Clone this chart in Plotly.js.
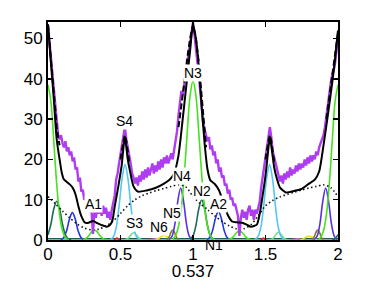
<!DOCTYPE html>
<html>
<head>
<meta charset="utf-8">
<script src="https://cdn.plot.ly/plotly-3.0.1.min.js"></script>
<style>
html,body{margin:0;padding:0;background:#fff;}
#chart{width:374px;height:281px;}
</style>
</head>
<body>
<div id="chart"></div>
<script>
// ---------- data ----------
const xTicks = [0, 0.5, 1, 1.5, 2];
const xTickText = ['0', '0.5', '1', '1.5', '2'];
const yTicks = [0, 10, 20, 30, 40, 50];
const yTickText = ['0', '10', '20', '30', '40', '50'];
const xTitle = '0.537';
const yMax = 54.1;

// measured (noisy) profile, sampled every 0.01 from 0 to 2
const dataStart = 0, dataStep = 0.01;
const dataY = [
 53,49,45,40,36,32,29,26,25,26,
 24,23,24.5,22,23,21,22,19.5,20.5,17.5,
 18,14.5,15.5,12,12.5,10,10.5,8.5,9,7,
 7.5,1.5,7,5.5,8,6.5,8,6,8.5,6.5,
 8,5.5,7,5,7.5,9,11,15,16.5,19,
 21,23,25,28,25,22.5,21,19,16.5,15.5,
 14,15.5,13.5,16,14.5,17,15,17.5,15.5,18,
 16,17.5,19,16.5,18.5,17,19.5,17.5,20,18,
 20.5,19,21,19,20.5,21.5,20,22.5,24,27,
 31,33.5,37,36,38.5,41,44,46,48,51,
 54,
 51,48,45,41,37,33,29,27.5,26,24.5,
 25.5,22.5,23.5,21,22,19,20,17,18,15.5,
 16,13.5,14,11.5,12.5,10,10.5,8.5,9,7,
 6,1.0,5.5,7.5,5.5,7,5,7.5,8.5,6,
 7.5,5,7.5,6.5,8.5,9.5,13,15.5,18,20.5,
 22.5,25,28,25.5,22,20.5,19,17.5,15.5,14.5,
 16,14,16.5,15,17,15.5,18,16,17.5,16.5,
 18.5,17,19,17.5,19,18,20,18.5,20.5,19,
 21,19.5,21,20,22,21,23,24,25,26,
 28,31,34,37,39,41,42,44,47,50
];

// smooth fit (solid black)
const fitX = [0,0.02,0.04,0.06,0.08,0.095,0.11,0.13,0.15,0.17,0.19,0.21,0.23,0.255,0.28,0.31,0.34,0.37,0.405,0.43,0.445,0.46,0.485,0.508,0.53,0.55,0.566,0.59,0.62,0.68,0.74,0.80,0.84,0.87,0.90,0.92,0.95,0.98,1.0,1.02,1.04,1.06,1.08,1.10,1.12,1.15,1.18,1.21,1.24,1.27,1.30,1.34,1.37,1.40,1.44,1.46,1.48,1.50,1.515,1.53,1.545,1.56,1.58,1.60,1.64,1.70,1.75,1.80,1.84,1.87,1.90,1.93,1.96,1.98,2.0];
const fitY = [53.5,44,35,25,20,16.7,15,14.4,13.8,13,11.3,8.3,5.9,4.3,4.3,4.7,4.2,3.7,3.3,3.8,5,8.3,13.3,18.5,25.5,20,17,13.3,12,12.3,12.9,14,15,16.5,21,27,37,47,53.5,50,43,33,24,17.5,14.8,13.9,12.3,9.2,6.2,4.6,4.4,4.3,3.8,3.3,3.8,6.5,11,16,21,25.5,22,18,15,13,11.8,12.2,12.7,14,15,17,23.5,31,39,45,52];

// dashed black model near the peaks
const peakFitX = [0,0.01,0.02,0.03,0.04,0.05,0.06,0.07,0.08, 0.3, 0.50,0.51,0.52,0.53,0.54,0.55,0.56, 0.7, 0.90,0.92,0.94,0.96,0.98,1.0,1.02,1.04,1.06,1.08,1.09, 1.3, 1.50,1.51,1.52,1.53,1.54,1.55,1.56, 1.7, 1.92,1.94,1.96,1.98,2.0];
const peakFitY = [53.5,49,44.5,40,35.5,31.5,28,25.5,23.5, null, 20,22.5,24.5,26,24.5,22,19.5, null, 28,33,39,45,50,53.5,50,44,36,27,23, null, 20,22.5,24.5,26,24.5,22,19.5, null, 30,35.5,40.5,46,51.5];

// dotted background curve
const bgX = [0,0.05,0.10,0.15,0.20,0.25,0.30,0.35,0.40,0.45,0.50,0.55,0.60,0.65,0.70,0.75,0.80,0.85,0.90,0.95,1.00,1.05,1.10,1.15,1.20,1.25,1.30,1.35,1.40,1.45,1.50,1.55,1.60,1.65,1.70,1.75,1.80,1.85,1.90,1.95,2.00];
const bgY = [10.8,9.0,7.2,5.5,4.0,3.0,2.5,2.7,3.5,4.7,6.6,8.5,10.0,11.0,11.7,12.3,12.8,13.3,13.7,13.2,10.8,9.0,7.6,6.0,4.6,3.5,2.8,2.8,3.8,6.0,8.5,9.8,10.7,11.3,11.9,12.4,12.9,13.3,13.7,13.0,10.8];

// components (sampled read-offs)
const greenX = [0,0.02,0.04,0.06,0.08,0.10,0.12,0.14, 0.2, 0.24,0.26,0.28,0.30,0.32,0.34,0.36,0.38,0.40,0.42, 0.6, 0.86,0.88,0.90,0.92,0.94,0.96,0.98,1.0,1.02,1.04,1.06,1.08,1.10,1.12,1.14, 1.2, 1.24,1.26,1.28,1.30,1.32,1.34,1.36,1.38,1.40,1.42, 1.6, 1.86,1.88,1.90,1.92,1.94,1.96,1.98,2.0];
const greenY = [38.5,34.4,24.4,13.9,6.3,2.3,0.65,0, null, 0.1,0.34,1.0,2.0,2.5,2.0,1.0,0.34,0.1,0, null, 0.3,1.1,3.4,8.1,16.2,26.6,35.8,39.5,35.8,26.6,16.2,8.1,3.4,1.1,0.3, null, 0.1,0.3,0.9,1.8,2.3,1.8,0.9,0.3,0.1,0, null, 0,0.65,2.3,6.3,13.9,24.4,34.4,38.5];

const tealX = [0,0.02,0.04,0.06,0.08,0.10,0.12,0.14,0.16, 0.5, 0.98,1.0,1.02,1.04,1.06,1.08,1.10,1.12,1.14, 1.5, 1.96,1.98,2.0];
const tealY = [1.3,3.9,7.7,9.6,7.7,3.9,1.3,0.3,0, null, 0.17,1.0,3.6,7.75,10,7.75,3.6,1.0,0.17, null, 0,0.3,1.3];

const blueX = [0.088,0.108,0.128,0.148,0.168,0.188,0.208,0.228,0.248, 0.6, 1.095,1.115,1.135,1.155,1.175,1.195,1.215,1.235,1.255];
const blueY = [0.08,0.58,2.25,5.2,6.8,5.2,2.25,0.58,0.08, null, 0.09,0.6,2.35,5.4,7.1,5.4,2.35,0.6,0.09];

const cyanX = [0.431,0.451,0.471,0.491,0.511,0.531,0.551,0.571,0.591,0.611,0.631, 1.0, 1.428,1.448,1.468,1.488,1.508,1.528,1.548,1.568,1.588,1.608,1.628];
const cyanY = [0.14,0.82,3.2,8.6,15.3,18.7,15.3,8.6,3.2,0.82,0.14, null, 0.14,0.82,3.2,8.6,15.3,18.7,15.3,8.6,3.2,0.82,0.14];

const lightGreenX = [0.53,0.55,0.57,0.59,0.61,0.63,0.65, 1.0, 1.53,1.55,1.57,1.59,1.61,1.63,1.65];
const lightGreenY = [0.04,0.35,1.2,1.8,1.2,0.35,0.04, null, 0.04,0.37,1.25,1.9,1.25,0.37,0.04];

const oliveX = [0.82,0.83,0.84,0.85,0.86,0.87,0.88,0.89,0.90, 1.3, 1.82,1.83,1.84,1.85,1.86,1.87,1.88,1.89,1.90];
const oliveY = [0.11,0.43,1.15,2.05,2.5,2.05,1.15,0.43,0.11, null, 0.11,0.43,1.15,2.05,2.5,2.05,1.15,0.43,0.11];

const yellowX = [0.74,0.76,0.78,0.80,0.82,0.84,0.86, 1.3, 1.74,1.76,1.78,1.80,1.82,1.84,1.86];
const yellowY = [0.06,0.31,0.8,1.1,0.8,0.31,0.06, null, 0.05,0.28,0.73,1.0,0.73,0.28,0.05];

const violetX = [0.835,0.855,0.875,0.895,0.915,0.935,0.955,0.975,0.995, 1.4, 1.835,1.855,1.875,1.895,1.915,1.935,1.955,1.975,1.995];
const violetY = [0.12,0.9,3.95,9.6,12.9,9.6,3.95,0.9,0.12, null, 0.12,0.9,3.95,9.6,12.9,9.6,3.95,0.9,0.12];

const paleCyanX = [0.09,0.105,0.12,0.135,0.15, 0.6, 1.09,1.105,1.12,1.135,1.15];
const paleCyanY = [0,0.3,0.6,0.3,0, null, 0,0.3,0.6,0.3,0];

const redX = [0.455,0.465,0.475,0.485,0.495, 1.0, 1.465,1.475,1.485,1.495,1.505];
const redY = [0,0.25,0.5,0.25,0, null, 0,0.25,0.5,0.25,0];

const pinkX = [0.70,0.72,0.74,0.76,0.78, 1.2, 1.68,1.70,1.72,1.74,1.76];
const pinkY = [0,0.15,0.3,0.15,0, null, 0,0.15,0.3,0.15,0];

const floorX = [0, 2];
const floorY = [0.3, 0.3];

// labels
const labelText = ['A1','S4','S3','N6','N5','N4','N3','N2','A2','N1'];
const labelX = [0.315, 0.527, 0.595, 0.764, 0.853, 0.922, 1.002, 1.059, 1.174, 1.146];
const labelY = [9.0, 29.6, 4.3, 3.2, 6.6, 15.9, 41.5, 12.1, 8.9, -1.2];

// ---------- build ----------
const dataX = dataY.map((_, i) => +(dataStart + i * dataStep).toFixed(2));

function comp(x, y, color, width) {
  return {x: x, y: y, type: 'scatter', mode: 'lines', connectgaps: false,
          line: {color: color, width: width || 1.6, shape: 'spline', smoothing: 1},
          hoverinfo: 'skip'};
}

const traces = [
  comp(floorX, floorY, '#1d5f58', 1.5),
  comp(pinkX, pinkY, '#e070d0'),
  comp(redX, redY, '#e02020'),
  comp(paleCyanX, paleCyanY, '#8ad8f0'),
  comp(yellowX, yellowY, '#e8e810'),
  comp(oliveX, oliveY, '#857a2a'),
  comp(lightGreenX, lightGreenY, '#6fe08a'),
  comp(blueX, blueY, '#2335e0'),
  comp(violetX, violetY, '#5a30e6'),
  comp(tealX, tealY, '#1d6b55'),
  comp(cyanX, cyanY, '#55c8f2'),
  comp(greenX, greenY, '#46e21e'),
  {x: bgX, y: bgY, type: 'scatter', mode: 'lines',
   line: {color: '#111', width: 1.6, dash: '1.5px,2.6px', shape: 'spline', smoothing: 0.8}},
  {x: dataX, y: dataY, type: 'scatter', mode: 'lines',
   line: {color: '#b03cf2', width: 2.4}},
  {x: fitX, y: fitY, type: 'scatter', mode: 'lines',
   line: {color: '#000', width: 2, shape: 'spline', smoothing: 0.6}},
  {x: peakFitX, y: peakFitY, type: 'scatter', mode: 'lines', connectgaps: false,
   line: {color: '#000', width: 2, dash: '6px,3px'}}
];

const annotations = labelText.map((t, i) => {
  const below = labelY[i] < 0;
  return {
    x: labelX[i], xref: 'x',
    y: below ? labelY[i] / yMax : labelY[i], yref: below ? 'paper' : 'y',
    xanchor: 'center', yanchor: 'middle',
    text: t, showarrow: false,
    font: {family: 'Liberation Sans, Arial, sans-serif', size: 14, color: '#000'},
    bgcolor: below ? 'rgba(0,0,0,0)' : '#ffffff', borderpad: 0
  };
});

const tickFont = {family: 'Liberation Sans, Arial, sans-serif', size: 17, color: '#000'};

const layout = {
  width: 374, height: 281,
  margin: {l: 48, r: 36, t: 22, b: 41, pad: 0},
  paper_bgcolor: '#fff', plot_bgcolor: '#fff',
  showlegend: false,
  xaxis: {
    range: [0, 2], tickvals: xTicks, ticktext: xTickText,
    ticks: 'inside', ticklen: 5, tickwidth: 1.5, tickcolor: '#000',
    showline: true, linecolor: '#000', linewidth: 2, mirror: 'allticks',
    showgrid: false, zeroline: false, tickfont: tickFont,
    ticklabelstandoff: -2,
    title: {text: xTitle, font: tickFont, standoff: 5}
  },
  yaxis: {
    range: [0, yMax], tickvals: yTicks, ticktext: yTickText,
    ticks: 'inside', ticklen: 5, tickwidth: 1.5, tickcolor: '#000',
    showline: true, linecolor: '#000', linewidth: 2, mirror: 'allticks',
    showgrid: false, zeroline: false, tickfont: tickFont
  },
  annotations: annotations
};

Plotly.newPlot('chart', traces, layout, {staticPlot: true, displayModeBar: false});
</script>
</body>
</html>
